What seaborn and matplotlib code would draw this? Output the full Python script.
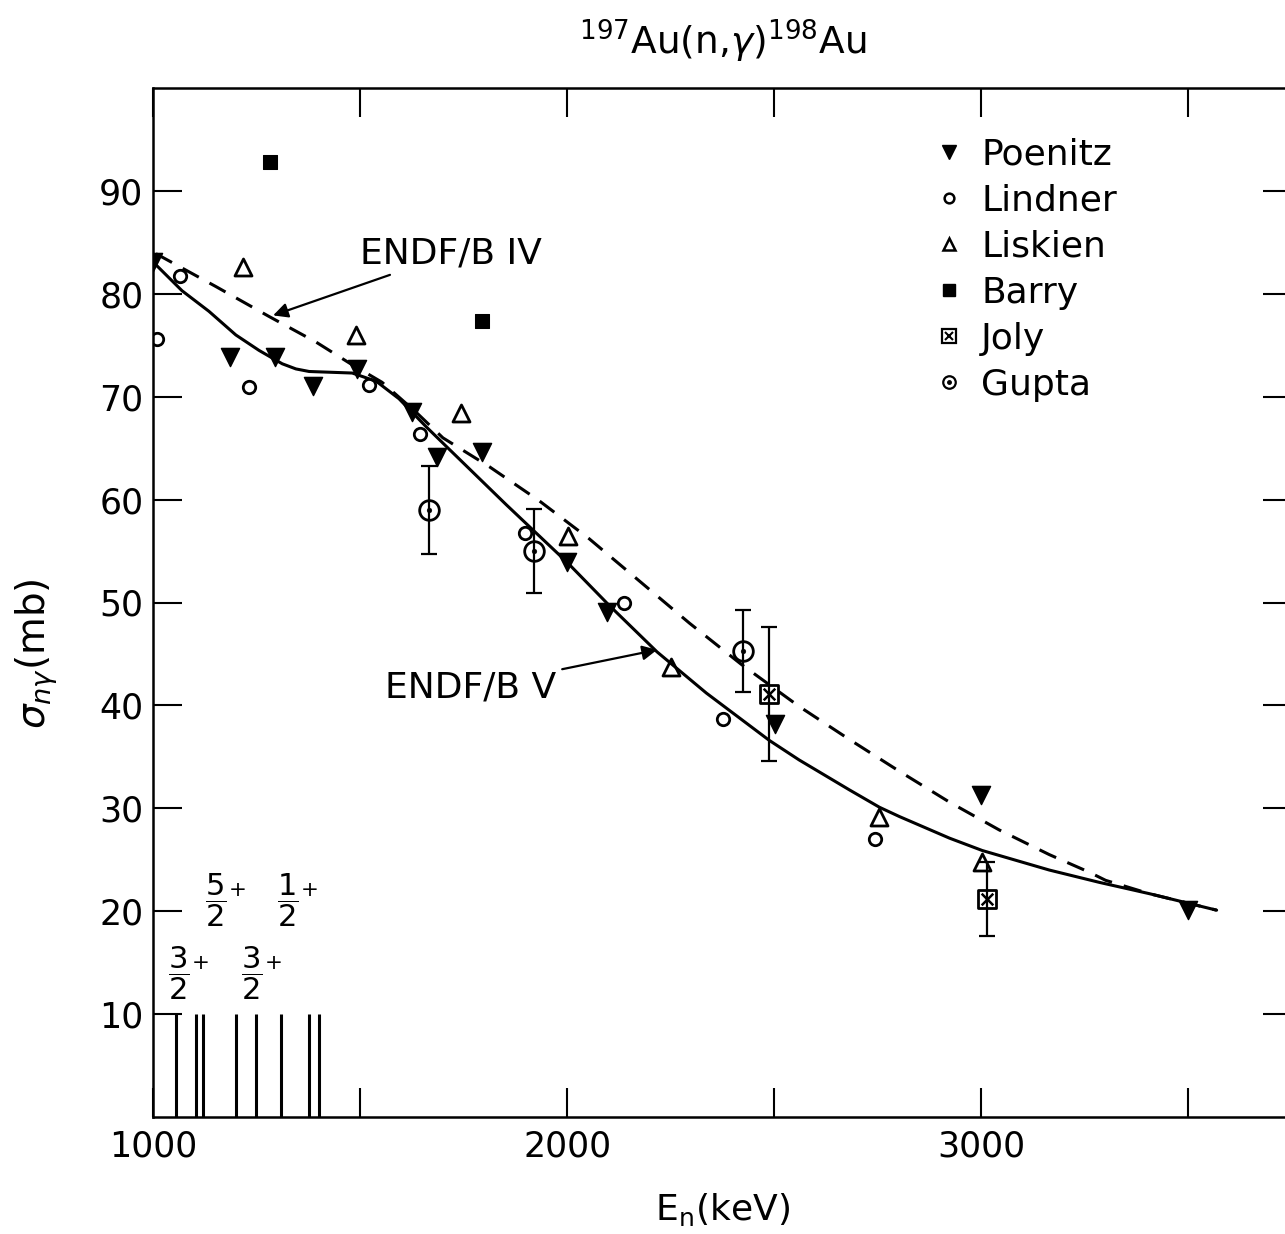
import matplotlib
matplotlib.use("Agg")
import matplotlib.pyplot as plt
from matplotlib.lines import Line2D
import seaborn as sns

sns.set_theme(style="ticks")
plt.rcParams["font.family"] = ["DejaVu Sans"]
plt.rcParams["mathtext.fontset"] = "dejavusans"
for key in ["text.color", "axes.labelcolor", "xtick.color", "ytick.color", "axes.edgecolor"]:
    plt.rcParams[key] = "black"

# measured points (keV, mb)
poenitz_x = [1000, 1186, 1295, 1386, 1493, 1625, 1686, 1795, 2000, 2097, 2502, 3000, 3500]
poenitz_y = [83.1, 73.9, 73.9, 71.0, 72.7, 68.5, 64.1, 64.6, 53.9, 49.1, 38.2, 31.3, 20.1]

lindner_x = [1010, 1065, 1232, 1522, 1645, 1899, 2138, 2377, 2742]
lindner_y = [75.6, 81.7, 70.9, 71.1, 66.4, 56.8, 50.0, 38.7, 27.0]

liskien_x = [1217, 1490, 1744, 2002, 2251, 2754, 3002]
liskien_y = [82.6, 76.0, 68.4, 56.5, 43.7, 29.2, 24.8]

barry_x = [1283, 1795]
barry_y = [92.8, 77.4]

joly_x = [2488, 3014]
joly_y = [41.1, 21.2]
joly_err = [6.5, 3.6]

gupta_x = [1667, 1920, 2425]
gupta_y = [59.0, 55.0, 45.3]
gupta_err = [4.3, 4.1, 4.0]

# evaluated curves
endf5_x = [1000, 1070, 1135, 1200, 1256, 1312, 1345, 1377, 1481, 1539, 1594, 1659,
           1715, 1853, 2000, 2097, 2217, 2336, 2488, 2560, 2681, 2754, 2802, 2923,
           3002, 3164, 3285, 3406, 3568]
endf5_y = [83.1, 80.3, 78.3, 76.0, 74.5, 73.2, 72.7, 72.45, 72.3, 71.5, 69.8, 67.1,
           64.9, 59.5, 53.9, 49.9, 45.2, 41.2, 36.6, 34.7, 31.8, 30.1, 29.2, 27.1,
           25.9, 24.0, 22.8, 21.7, 20.1]

endf4_x = [1007, 1152, 1280, 1394, 1473, 1553, 1635, 1700, 1812, 1932, 2053, 2174,
           2295, 2420, 2560, 2681, 2802, 2923, 3043, 3164, 3260, 3300, 3406, 3568]
endf4_y = [83.9, 80.7, 77.8, 75.3, 73.3, 71.4, 68.5, 66.0, 63.2, 59.9, 56.2, 52.1,
           48.0, 44.0, 39.9, 36.7, 33.6, 30.6, 27.9, 25.5, 23.8, 23.0, 21.7, 20.1]

# level scheme at bottom
level_x = [1056, 1104, 1121, 1200, 1249, 1309, 1377, 1401]
level_top = 10
spin_labels = [r"$\dfrac{3}{2}^{+}$", r"$\dfrac{5}{2}^{+}$", r"$\dfrac{3}{2}^{+}$", r"$\dfrac{1}{2}^{+}$"]
spin_x = [1085, 1176, 1261, 1350]
spin_y = [14.0, 21.1, 14.0, 21.1]

fig = plt.figure(figsize=(12.85, 12.34), dpi=100)
ax = fig.add_axes([153 / 1285, 117 / 1234, 1139 / 1285, 1029 / 1234])

ink = "black"
sns.lineplot(x=endf5_x, y=endf5_y, color=ink, lw=2.2, sort=False, ax=ax)
sns.lineplot(x=endf4_x, y=endf4_y, color=ink, lw=2.2, sort=False, ax=ax,
             dashes=False, linestyle=(0, (6, 4)))

ax.errorbar(joly_x, joly_y, yerr=joly_err, fmt="none", ecolor=ink, elinewidth=1.6,
            capsize=6, capthick=1.6)
ax.errorbar(gupta_x, gupta_y, yerr=gupta_err, fmt="none", ecolor=ink, elinewidth=1.6,
            capsize=6, capthick=1.6)

sns.scatterplot(x=poenitz_x, y=poenitz_y, marker="v", s=170, color=ink, edgecolor=ink, ax=ax)
sns.scatterplot(x=lindner_x, y=lindner_y, marker="o", s=80, facecolor="white",
                edgecolor=ink, linewidth=2, ax=ax)
sns.scatterplot(x=liskien_x, y=liskien_y, marker="^", s=150, facecolor="white",
                edgecolor=ink, linewidth=2, ax=ax)
sns.scatterplot(x=barry_x, y=barry_y, marker="s", s=90, color=ink, edgecolor=ink, ax=ax)
sns.scatterplot(x=joly_x, y=joly_y, marker="s", s=170, facecolor="white",
                edgecolor=ink, linewidth=2, ax=ax)
sns.scatterplot(x=joly_x, y=joly_y, marker="x", s=70, color=ink, linewidth=1.8, ax=ax)
sns.scatterplot(x=gupta_x, y=gupta_y, marker="o", s=200, facecolor="white",
                edgecolor=ink, linewidth=2, ax=ax)
sns.scatterplot(x=gupta_x, y=gupta_y, marker="o", s=12, color=ink, edgecolor=ink, ax=ax)

ax.vlines(level_x, 0, level_top, color=ink, lw=2.2)
for lbl, lx, ly in zip(spin_labels, spin_x, spin_y):
    ax.text(lx, ly, lbl, fontsize=22, ha="center", va="center", color=ink)

ax.annotate("ENDF/B IV", xy=(1290, 77.9), xytext=(1500, 83.9), fontsize=26,
            ha="left", va="center",
            arrowprops=dict(arrowstyle="-|>", color=ink, lw=1.6, mutation_scale=22,
                            shrinkA=2, shrinkB=0))
ax.annotate("ENDF/B V", xy=(2217, 45.4), xytext=(1560, 41.7), fontsize=26,
            ha="left", va="center",
            arrowprops=dict(arrowstyle="-|>", color=ink, lw=1.6, mutation_scale=22,
                            shrinkA=2, shrinkB=0))

# legend
h_poe = Line2D([], [], ls="none", marker="v", ms=10, color=ink)
h_lin = Line2D([], [], ls="none", marker="o", ms=7, mfc="white", mec=ink, mew=1.8)
h_lis = Line2D([], [], ls="none", marker="^", ms=9, mfc="white", mec=ink, mew=1.8)
h_bar = Line2D([], [], ls="none", marker="s", ms=8, color=ink)
h_jo1 = Line2D([], [], ls="none", marker="s", ms=10, mfc="white", mec=ink, mew=1.6)
h_jo2 = Line2D([], [], ls="none", marker="x", ms=6, color=ink, mew=1.5)
h_gu1 = Line2D([], [], ls="none", marker="o", ms=9, mfc="white", mec=ink, mew=1.6)
h_gu2 = Line2D([], [], ls="none", marker="o", ms=2.5, color=ink)
ax.legend([h_poe, h_lin, h_lis, h_bar, (h_jo1, h_jo2), (h_gu1, h_gu2)],
          ["Poenitz", "Lindner", "Liskien", "Barry", "Joly", "Gupta"],
          loc="upper left", bbox_to_anchor=(0.67, 0.969), frameon=False,
          fontsize=26, handlelength=0.8, handletextpad=0.5, labelspacing=0.33,
          borderpad=0)

ax.set_xlim(1000, 3750)
ax.set_ylim(0, 100)
ax.set_xticks([1000, 1500, 2000, 2500, 3000, 3500])
ax.set_xticklabels(["1000", "", "2000", "", "3000", ""])
ax.set_yticks([10, 20, 30, 40, 50, 60, 70, 80, 90])
ax.set_yticklabels([str(v) for v in range(10, 100, 10)])
ax.tick_params(axis="both", direction="in", length=21, width=1.5, labelsize=25,
               top=True, right=True, color=ink, labelcolor=ink)
ax.tick_params(axis="x", pad=9)
ax.tick_params(axis="y", pad=7)
for side in ["left", "bottom", "top", "right"]:
    ax.spines[side].set_linewidth(1.8)
    ax.spines[side].set_color(ink)

ax.set_xlabel(r"E$_{\mathrm{n}}$(keV)", fontsize=26, labelpad=20, color=ink)
ax.set_ylabel(r"$\sigma_{n\gamma}$(mb)", fontsize=28, color=ink)
ax.yaxis.set_label_coords(-0.082, 0.45)
ax.set_title(r"$^{197}$Au(n,$\gamma$)$^{198}$Au", fontsize=27, pad=24, color=ink)

fig.savefig("out.png", dpi=100)
